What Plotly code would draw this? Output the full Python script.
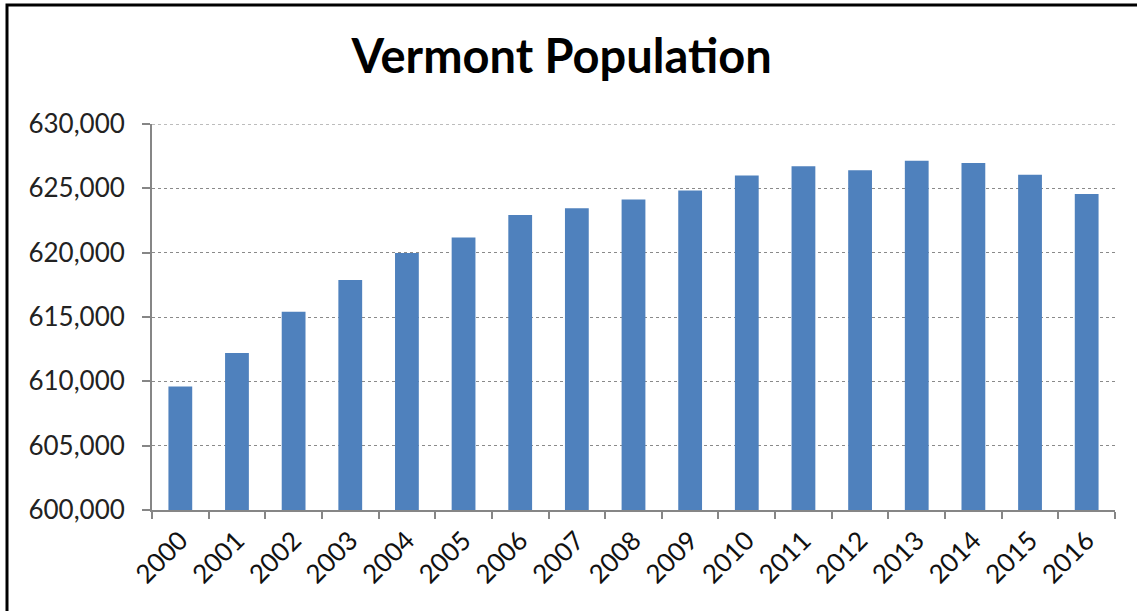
import plotly.graph_objects as go

years = [str(y) for y in range(2000, 2017)]
population = [609590, 612200, 615410, 617870, 619970, 621180, 622920, 623460,
              624130, 624830, 625990, 626720, 626410, 627140, 626960, 626050, 624550]
y_ticks = [600000, 605000, 610000, 615000, 620000, 625000, 630000]

W, H = 1137, 611
L, R, T, B = 152, 22, 124, 101
pw, ph = W - L - R, H - T - B

fig = go.Figure(go.Bar(x=years, y=population, marker=dict(color="#4F81BD", line=dict(width=0)),
                       hoverinfo="x+y"))

font_main = "Lato, 'Open Sans', sans-serif"
fig.update_layout(
    width=W, height=H,
    margin=dict(l=L, r=R, t=T, b=B, autoexpand=False),
    paper_bgcolor="white", plot_bgcolor="white",
    bargap=0.58,
    showlegend=False,
    title=dict(text="<b>Vermont Population</b>", x=0.494, xanchor="center",
               y=1 - 57 / H, yanchor="middle",
               font=dict(family=font_main, size=47, color="#000000", weight=900)),
    font=dict(family=font_main, size=26, color="#222222"),
)
fig.update_xaxes(
    type="category", tickangle=-45, tickson="boundaries",
    ticks="outside", ticklen=7, tickcolor="#868686", tickwidth=2,
    showline=True, linecolor="#868686", linewidth=2,
    showgrid=False, tickfont=dict(size=26, color="#111111"),
    ticklabelstandoff=3,
)
fig.update_yaxes(
    range=[600000, 630000], tickvals=y_ticks, tickformat=",",
    ticks="outside", ticklen=8, tickcolor="#868686", tickwidth=2,
    showline=True, linecolor="#868686", linewidth=2,
    showgrid=True, gridcolor="#8a8a8a", gridwidth=1, griddash="dot",
    zeroline=False, tickfont=dict(size=26, color="#222222"),
    ticklabelstandoff=12,
)
# top gridline (630,000), which plotly omits at the range edge
fig.add_shape(type="line", xref="paper", yref="y", x0=0, x1=1,
              y0=y_ticks[-1], y1=y_ticks[-1],
              line=dict(color="#7a7a7a", width=1, dash="dot"), layer="below")
# outer chart border
fig.add_shape(type="rect", xref="paper", yref="paper",
              x0=(7 - L) / pw, x1=(1145 - L) / pw,
              y0=(H - B - 620) / ph, y1=(H - B - 5) / ph,
              line=dict(color="#000000", width=3), layer="above")

fig.write_html("out.html")
